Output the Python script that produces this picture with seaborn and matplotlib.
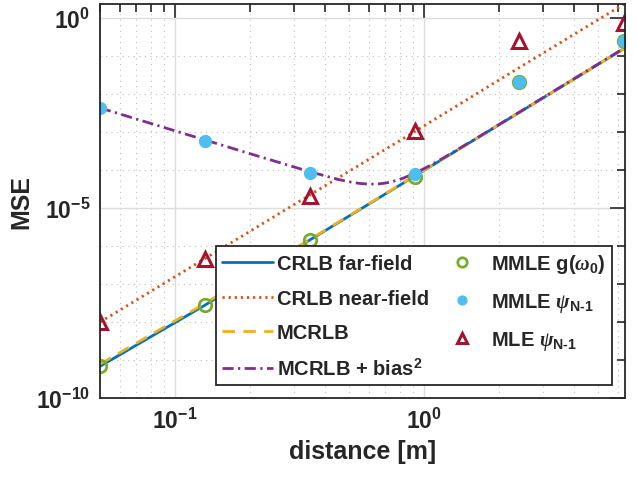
import numpy as np
import pandas as pd
import matplotlib
matplotlib.use("Agg")
import matplotlib.pyplot as plt
import matplotlib.ticker as mticker
import seaborn as sns

# Sample positions (distance in metres)
distance = [0.05, 0.132, 0.348, 0.917, 2.41, 6.35]

# Bounds
crlb_far = [6.9e-10, 2.8e-8, 1.45e-6, 6.9e-5, 3.25e-3, 0.155]
crlb_near = [1.0e-8, 4.7e-7, 2.2e-5, 1.02e-3, 4.9e-2, 2.3]
mcrlb = [7.9e-10, 3.1e-8, 1.5e-6, 7.0e-5, 3.25e-3, 0.155]

# Misspecified bound plus squared bias (finer sampling)
bias_distance = [0.05, 0.08, 0.132, 0.2, 0.348, 0.45, 0.5, 0.55, 0.6, 0.65,
                 0.7, 0.75, 0.82, 0.917, 1.05, 1.2, 1.6, 2.41, 4.0, 6.35]
mcrlb_bias = [4.28e-3, 1.67e-3, 6.14e-4, 2.68e-4, 8.98e-5, 5.68e-5, 4.89e-5,
              4.43e-5, 4.24e-5, 4.27e-5, 4.52e-5, 4.99e-5, 6.0e-5, 8.17e-5,
              1.28e-4, 2.10e-4, 6.44e-4, 3.29e-3, 2.50e-2, 0.159]

# Simulated estimator MSE
mmle_g = [6.9e-10, 2.8e-8, 1.45e-6, 6.6e-5, 2.1e-2, 0.25]
mmle_psi = [4.3e-3, 5.8e-4, 8.3e-5, 7.8e-5, 2.1e-2, 0.25]
mle_psi = [1.0e-8, 4.6e-7, 2.1e-5, 1.07e-3, 0.24, 0.74]

sns.set_style("white")
plt.rcParams["font.family"] = ["Liberation Sans", "DejaVu Sans"]
plt.rcParams["font.weight"] = "bold"
plt.rcParams["mathtext.fontset"] = "custom"
plt.rcParams["mathtext.rm"] = "Liberation Sans:bold"
plt.rcParams["mathtext.bf"] = "Liberation Sans:bold"
plt.rcParams["mathtext.it"] = "Liberation Serif:italic"

C_BLUE = "#0072BD"
C_ORANGE = "#D95319"
C_YELLOW = "#EDB120"
C_PURPLE = "#7E2F8E"
C_GREEN = "#77AC30"
C_CYAN = "#4DBEEE"
C_RED = "#A2142F"
INK = "#262626"

fig = plt.figure(figsize=(6.37, 4.81), dpi=100)
ax = fig.add_axes([0.157, 0.170, 0.824, 0.820])
ax.set_xscale("log")
ax.set_yscale("log")

ax.grid(True, which="major", color="#DCDCDC", lw=1.0, ls="-")
ax.grid(True, which="minor", color="#BDBDBD", lw=0.8, ls=(0, (1, 4)))
ax.set_axisbelow(True)

df_b = pd.DataFrame({"d": distance, "far": crlb_far, "near": crlb_near, "m": mcrlb,
                     "g": mmle_g, "psi": mmle_psi, "mle": mle_psi})
df_bias = pd.DataFrame({"d": bias_distance, "v": mcrlb_bias})

LW = 2.0
sns.lineplot(data=df_b, x="d", y="far", ax=ax, color=C_BLUE, lw=LW,
             label="CRLB far-field")
sns.lineplot(data=df_b, x="d", y="near", ax=ax, color=C_ORANGE, lw=LW,
             linestyle=(0, (0.8, 1.4)), label="CRLB near-field")
sns.lineplot(data=df_b, x="d", y="m", ax=ax, color=C_YELLOW, lw=LW,
             linestyle=(0, (4.5, 3)), label="MCRLB")
sns.lineplot(data=df_bias, x="d", y="v", ax=ax, color=C_PURPLE, lw=LW,
             linestyle=(0, (4, 1.6, 0.8, 1.6)),
             label=r"MCRLB + bias$^{\mathdefault{2}}$")

sns.lineplot(data=df_b, x="d", y="g", ax=ax, linestyle="none", marker="o",
             markersize=9, markerfacecolor="none", markeredgecolor=C_GREEN,
             markeredgewidth=2.0, color=C_GREEN,
             label=r"MMLE g($\omega_{\mathdefault{0}}$)")
sns.lineplot(data=df_b, x="d", y="psi", ax=ax, linestyle="none", marker="o",
             markersize=8.5, markerfacecolor=C_CYAN, markeredgecolor=C_CYAN,
             markeredgewidth=1.0, color=C_CYAN,
             label=r"MMLE $\psi_{\text{N-1}}$")
sns.lineplot(data=df_b, x="d", y="mle", ax=ax, linestyle="none", marker="^",
             markersize=9.5, markerfacecolor="none", markeredgecolor=C_RED,
             markeredgewidth=2.2, color=C_RED,
             label=r"MLE $\psi_{\text{N-1}}$")

ax.set_xlim(0.05, 6.4)
ax.set_ylim(1e-10, 2.33)

ax.xaxis.set_major_locator(mticker.FixedLocator([0.1, 1.0]))
ax.xaxis.set_minor_locator(mticker.FixedLocator(
    [0.05, 0.06, 0.07, 0.08, 0.09, 0.2, 0.3, 0.4, 0.5, 0.6, 0.7, 0.8, 0.9,
     2, 3, 4, 5, 6]))
ax.yaxis.set_major_locator(mticker.FixedLocator([1e-10, 1e-5, 1e0]))
ax.yaxis.set_minor_locator(mticker.FixedLocator(
    [1e-9, 1e-8, 1e-7, 1e-6, 1e-4, 1e-3, 1e-2, 1e-1]))
ax.xaxis.set_major_formatter(mticker.LogFormatterSciNotation())
ax.yaxis.set_major_formatter(mticker.LogFormatterSciNotation())
ax.xaxis.set_minor_formatter(mticker.NullFormatter())
ax.yaxis.set_minor_formatter(mticker.NullFormatter())

for s in ax.spines.values():
    s.set_color(INK)
    s.set_linewidth(1.3)
ax.tick_params(which="both", direction="in", top=True, right=True,
               color=INK, labelcolor=INK, width=1.2)
ax.tick_params(which="major", length=10.5, labelsize=16.5, pad=7)
ax.tick_params(which="minor", length=6)
for lab in ax.get_xticklabels() + ax.get_yticklabels():
    lab.set_fontweight("bold")

ax.set_xlabel("distance [m]", fontsize=18, fontweight="bold", color=INK, labelpad=4)
ax.set_ylabel("MSE", fontsize=18, fontweight="bold", color=INK, labelpad=2)

leg = ax.legend(ncol=2, loc="lower right", bbox_to_anchor=(0.975, 0.033),
                borderaxespad=0, frameon=True, fancybox=False, framealpha=1,
                edgecolor=INK, prop={"family": "Liberation Sans", "weight": "bold",
                                     "size": 14.5},
                handlelength=2.5, handletextpad=0.2, columnspacing=0.4,
                labelspacing=0.78, borderpad=0.3, markerscale=0.75)
leg.get_frame().set_linewidth(1.3)

fig.savefig("out.png", dpi=100)
